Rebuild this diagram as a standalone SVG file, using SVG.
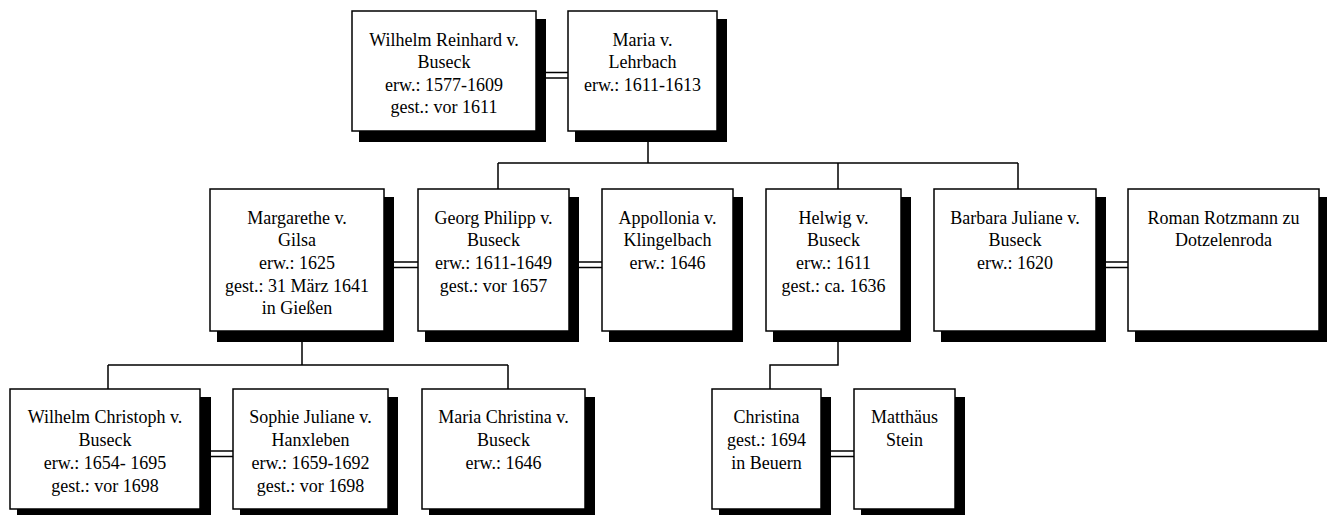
<svg xmlns="http://www.w3.org/2000/svg" width="1327" height="515" viewBox="0 0 1327 515">
<style>
.bg{fill:#fff}
.sh{fill:#000}
.bx{fill:#fff;stroke:#000;stroke-width:1.5}
.ln{fill:none;stroke:#000;stroke-width:1.5}
text{font-family:"Liberation Serif","Times New Roman",serif;font-size:18px;fill:#000;text-anchor:middle}
</style>
<rect class="bg" x="0" y="0" width="1327" height="515"/>
<g id="connectors">
  <path class="ln" d="M648 131V163M498 163H1018M498 163V189M838 163V189M1018 163V189"/>
  <path class="ln" d="M302 331V365M108 365H508M108 365V389M508 365V389"/>
  <path class="ln" d="M838 331V365H770V389"/>
  <path class="ln" d="M536 72.5H568M536 78H568"/>
  <path class="ln" d="M384 262H418M384 267.5H418"/>
  <path class="ln" d="M569 262H602M569 267.5H602"/>
  <path class="ln" d="M1096 262H1128M1096 267.5H1128"/>
  <path class="ln" d="M200 451H233M200 456.5H233"/>
  <path class="ln" d="M821 451H854M821 456.5H854"/>
</g>
<g id="n-wilhelm-reinhard">
  <rect class="sh" x="359" y="19" width="187" height="123"/>
  <rect class="bx" x="352" y="11" width="184" height="120"/>
  <text x="444" y="46">Wilhelm Reinhard v.</text>
  <text x="444" y="68">Buseck</text>
  <text x="444" y="91">erw.: 1577-1609</text>
  <text x="444" y="113">gest.: vor 1611</text>
</g>
<g id="n-maria-lehrbach">
  <rect class="sh" x="575" y="19" width="152" height="123"/>
  <rect class="bx" x="568" y="11" width="149" height="120"/>
  <text x="642.5" y="46">Maria v.</text>
  <text x="642.5" y="68">Lehrbach</text>
  <text x="642.5" y="91">erw.: 1611-1613</text>
</g>
<g id="n-margarethe">
  <rect class="sh" x="217" y="197" width="177" height="145"/>
  <rect class="bx" x="210" y="189" width="174" height="142"/>
  <text x="297" y="224">Margarethe v.</text>
  <text x="297" y="246">Gilsa</text>
  <text x="297" y="269">erw.: 1625</text>
  <text x="297" y="292">gest.: 31 März 1641</text>
  <text x="297" y="314">in Gießen</text>
</g>
<g id="n-georg-philipp">
  <rect class="sh" x="425" y="197" width="154" height="145"/>
  <rect class="bx" x="418" y="189" width="151" height="142"/>
  <text x="493.5" y="224">Georg Philipp v.</text>
  <text x="493.5" y="246">Buseck</text>
  <text x="493.5" y="269">erw.: 1611-1649</text>
  <text x="493.5" y="292">gest.: vor 1657</text>
</g>
<g id="n-appollonia">
  <rect class="sh" x="609" y="197" width="134" height="145"/>
  <rect class="bx" x="602" y="189" width="131" height="142"/>
  <text x="667.5" y="224">Appollonia v.</text>
  <text x="667.5" y="246">Klingelbach</text>
  <text x="667.5" y="269">erw.: 1646</text>
</g>
<g id="n-helwig">
  <rect class="sh" x="773" y="197" width="138" height="145"/>
  <rect class="bx" x="766" y="189" width="135" height="142"/>
  <text x="833.5" y="224">Helwig v.</text>
  <text x="833.5" y="246">Buseck</text>
  <text x="833.5" y="269">erw.: 1611</text>
  <text x="833.5" y="292">gest.: ca. 1636</text>
</g>
<g id="n-barbara-juliane">
  <rect class="sh" x="941" y="197" width="165" height="145"/>
  <rect class="bx" x="934" y="189" width="162" height="142"/>
  <text x="1015" y="224">Barbara Juliane v.</text>
  <text x="1015" y="246">Buseck</text>
  <text x="1015" y="269">erw.: 1620</text>
</g>
<g id="n-roman-rotzmann">
  <rect class="sh" x="1135" y="197" width="194" height="145"/>
  <rect class="bx" x="1128" y="189" width="191" height="142"/>
  <text x="1223.5" y="224">Roman Rotzmann zu</text>
  <text x="1223.5" y="246">Dotzelenroda</text>
</g>
<g id="n-wilhelm-christoph">
  <rect class="sh" x="17" y="397" width="194" height="123"/>
  <rect class="bx" x="10" y="389" width="190" height="120"/>
  <text x="105" y="423">Wilhelm Christoph v.</text>
  <text x="105" y="446">Buseck</text>
  <text x="105" y="469">erw.: 1654- 1695</text>
  <text x="105" y="492">gest.: vor 1698</text>
</g>
<g id="n-sophie-juliane">
  <rect class="sh" x="240" y="397" width="158" height="123"/>
  <rect class="bx" x="233" y="389" width="155" height="120"/>
  <text x="310.5" y="423">Sophie Juliane v.</text>
  <text x="310.5" y="446">Hanxleben</text>
  <text x="310.5" y="469">erw.: 1659-1692</text>
  <text x="310.5" y="492">gest.: vor 1698</text>
</g>
<g id="n-maria-christina">
  <rect class="sh" x="429" y="397" width="166" height="123"/>
  <rect class="bx" x="422" y="389" width="163" height="120"/>
  <text x="503.5" y="423">Maria Christina v.</text>
  <text x="503.5" y="446">Buseck</text>
  <text x="503.5" y="469">erw.: 1646</text>
</g>
<g id="n-christina">
  <rect class="sh" x="719" y="397" width="112" height="123"/>
  <rect class="bx" x="712" y="389" width="109" height="120"/>
  <text x="766.5" y="423">Christina</text>
  <text x="766.5" y="446">gest.: 1694</text>
  <text x="766.5" y="469">in Beuern</text>
</g>
<g id="n-matthaeus-stein">
  <rect class="sh" x="861" y="397" width="104" height="123"/>
  <rect class="bx" x="854" y="389" width="101" height="120"/>
  <text x="904.5" y="423">Matthäus</text>
  <text x="904.5" y="446">Stein</text>
</g>
</svg>
